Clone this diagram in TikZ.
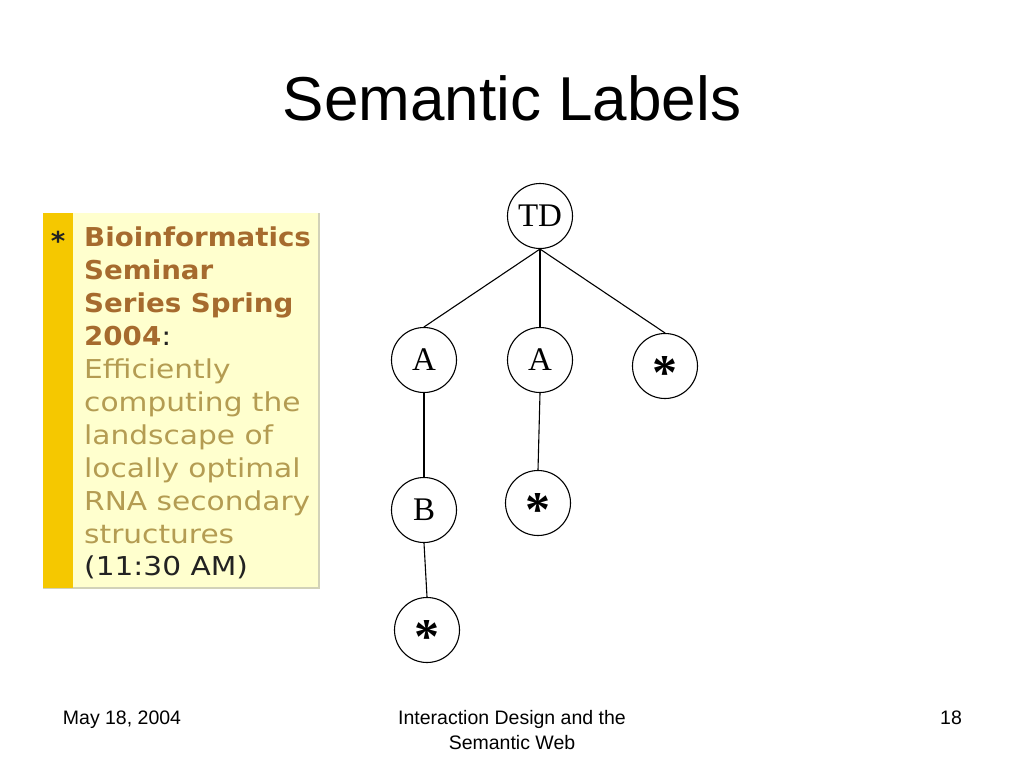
\documentclass[tikz,border=0pt]{standalone}
\usepackage{fontspec}
\setmainfont{Liberation Sans}
\newfontfamily\serifnode{Liberation Serif}
\newfontfamily\boxfont[FakeStretch=1.14]{DejaVu Sans}
\newfontfamily\boxboldfont[FakeStretch=1.065]{DejaVu Sans Bold}
\definecolor{boxfill}{HTML}{FFFFCE}
\definecolor{stripcol}{HTML}{F5C800}
\definecolor{boldbrown}{HTML}{A66B2E}
\definecolor{lightbrown}{HTML}{B49C52}
\definecolor{darktext}{HTML}{222222}
\definecolor{boxedge}{HTML}{D2D2B8}
\begin{document}
\begin{tikzpicture}[x=1pt,y=-1pt,
  treenode/.style={circle,draw=black,line width=1.1pt,minimum size=65pt,inner sep=0pt,font=\serifnode\fontsize{33}{33}\selectfont},
  astnode/.style={treenode,font=\serifnode\bfseries\fontsize{50}{50}\selectfont},
  edge/.style={draw=black,line width=1.1pt},
  boxline/.style={anchor=base west,inner sep=0pt,font=\boxfont\fontsize{26}{26}\selectfont},
  boldline/.style={boxline,text=boldbrown,font=\boxboldfont\fontsize{26}{26}\selectfont},
  plainline/.style={boxline,text=lightbrown},
  foot/.style={font=\fontsize{19.5}{25}\selectfont,anchor=base}]
\useasboundingbox (0,0) rectangle (1024,768);
\fill[white] (0,0) rectangle (1024,768);
% title
\node[anchor=base,font=\fontsize{62}{70}\selectfont] (title) at (512,120) {Semantic Labels};
% left box
\fill[boxfill] (43,213) rectangle (319,588);
\draw[boxedge,line width=1.5pt] (319,213) -- (319,588) -- (43,588);
\fill[stripcol] (43,213) rectangle (73,588);
\node[anchor=base,text=darktext,font=\boxboldfont\fontsize{26}{26}\selectfont,inner sep=0pt] (bullet) at (58,250) {*};
\node[boldline] (l1) at (84,246) {Bioinformatics};
\node[boldline] (l2) at (84,279) {Seminar};
\node[boldline] (l3) at (84,312) {Series Spring};
\node[boldline] (l4) at (84,345) {2004\textcolor{darktext}{\boxfont:}};
\node[plainline] (l5) at (84,378) {Efficiently};
\node[plainline] (l6) at (84,411) {computing the};
\node[plainline] (l7) at (84,444) {landscape of};
\node[plainline] (l8) at (84,477) {locally optimal};
\node[plainline] (l9) at (84,510) {RNA secondary};
\node[plainline] (l10) at (84,543) {structures};
\node[boxline,text=darktext] (l11) at (84,575) {(11:30 AM)};
% tree
\newcommand{\astglyph}{\smash{\raisebox{-0.47em}{*}}}
\newcommand{\lowtext}[1]{\smash{\raisebox{-0.5ex}{#1}}}
\node[treenode] (td) at (540,216) {\raisebox{-0.1ex}{TD}};
\node[treenode] (a1) at (424,360) {\raisebox{-0.25ex}{A}};
\node[treenode] (a2) at (540,360) {\raisebox{-0.25ex}{A}};
\node[astnode] (s1) at (665,366) {\astglyph};
\node[treenode] (b) at (424,510) {\raisebox{-0.15ex}{B}};
\node[astnode] (s2) at (538,503) {\astglyph};
\node[astnode] (s3) at (427,630) {\astglyph};
\draw[edge] (td.south) -- (a1.north);
\draw[edge] (td.south) -- (a2.north);
\draw[edge] (td.south) -- (s1.north);
\draw[edge] (a1.south) -- (b.north);
\draw[edge] (a2.south) -- (s2.north);
\draw[edge] (b.south) -- (s3.north);
% footer
\node[foot] (date) at (122,724) {May 18, 2004};
\node[foot] (course1) at (512,724) {Interaction Design and the};
\node[foot] (course2) at (512,749) {Semantic Web};
\node[foot] (page) at (951,724) {18};
\end{tikzpicture}
\end{document}
